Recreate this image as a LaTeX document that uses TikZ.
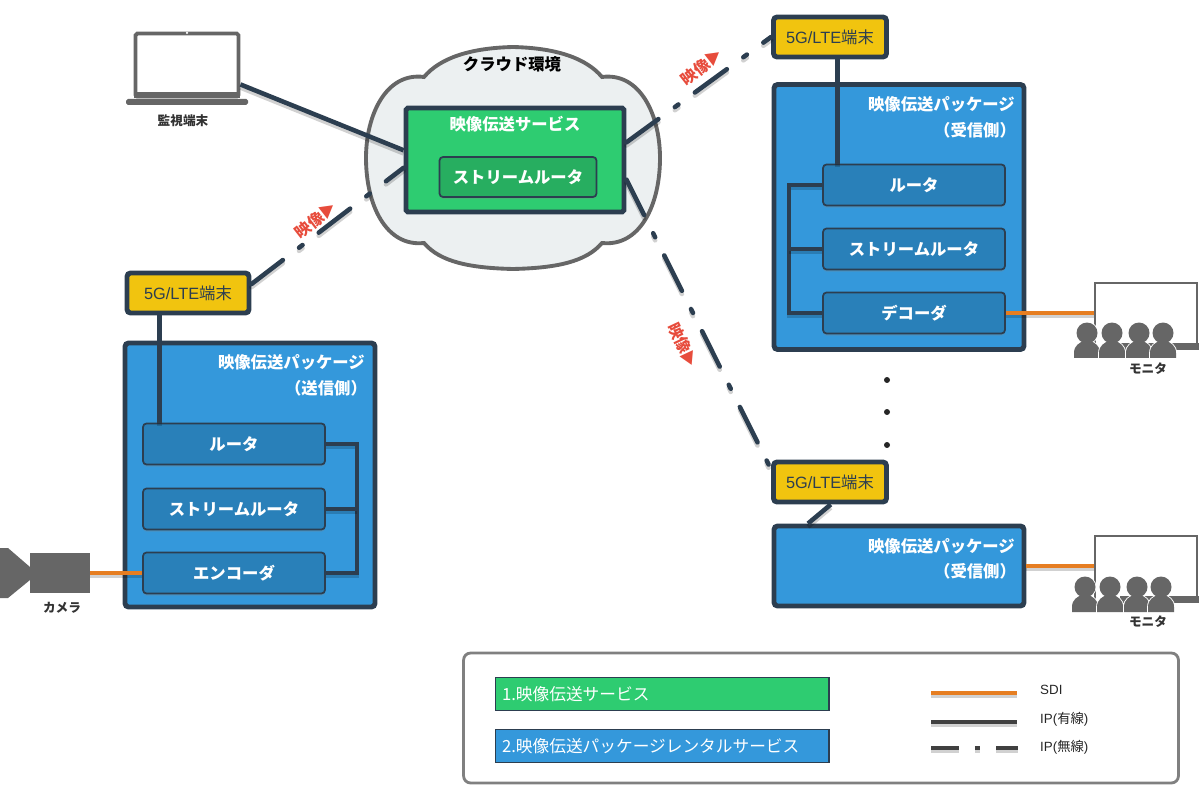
\documentclass[tikz,border=0pt]{standalone}
\usepackage{fontspec}
\setmainfont{Noto Sans CJK JP}
\newfontfamily\latinfont{Liberation Sans}
\usetikzlibrary{positioning,shadows}
\definecolor{navy}{HTML}{2C3E50}
\definecolor{leaf}{HTML}{2ECC71}
\definecolor{leafdark}{HTML}{27AE60}
\definecolor{sky}{HTML}{3498DB}
\definecolor{skydark}{HTML}{2980B9}
\definecolor{sun}{HTML}{F1C40F}
\definecolor{carrot}{HTML}{E67E22}
\definecolor{tomato}{HTML}{E74C3C}
\definecolor{cloudfill}{HTML}{ECF0F1}
\definecolor{ash}{HTML}{666666}
\begin{document}
\begin{tikzpicture}[x=0.02cm, y=-0.02cm,
	softline/.style = {preaction = {draw = black, opacity = .18, line width = 2.6pt, transform canvas = {yshift = -1.8pt}}},
	softradio/.style = {preaction = {draw = black, opacity = .18, line width = 2.6pt, line cap = round, dash pattern = on 22.5pt off 11.6pt on 2.5pt off 11.6pt, transform canvas = {yshift = -1.8pt}}},
	wire/.style = {draw = navy, line width = 2.6pt, softline},
	radio/.style = {draw = navy, line width = 2.6pt, softradio, line cap = round, dash pattern = on 22.5pt off 11.6pt on 2.5pt off 11.6pt},
	sdi/.style = {draw = carrot, line width = 2.8pt, softline},
	package/.style = {draw = navy, fill = sky, line width = 2.8pt, rounded corners = 2pt, minimum width = 5cm},
	service/.style = {draw = navy, fill = leaf, line width = 2.8pt, rounded corners = 1pt},
	unit/.style = {draw = navy, fill = skydark, line width = 1pt, rounded corners = 2pt, minimum width = 3.64cm, minimum height = 0.82cm, text = white, font = \bfseries\fontsize{9.3}{11}\selectfont, drop shadow = {shadow xshift = 0pt, shadow yshift = -1.2pt, opacity = .3}},
	terminal/.style = {draw = navy, fill = sun, line width = 2.8pt, rounded corners = 2pt, minimum width = 2.26cm, minimum height = 0.8cm, text = navy, font = \fontsize{9.3}{11}\selectfont},
	head/.style = {text = white, font = \bfseries\fontsize{9.3}{11}\selectfont},
	small/.style = {text = black!80, font = \bfseries\fontsize{7.2}{9}\selectfont},
	flow/.style = {text = tomato, font = \bfseries\fontsize{9}{11}\selectfont},
	screen/.style = {draw = ash, fill = white, line width = 1.6pt, minimum width = 2.04cm, minimum height = 1.32cm},
	keyitem/.style = {draw = navy, line width = 0.6pt, minimum width = 6.68cm, minimum height = 0.66cm, text = white, text width = 6.4cm, font = \fontsize{9.5}{11}\selectfont},
	keytext/.style = {anchor = west, text = black!85, font = \fontsize{7.6}{9}\selectfont},
	person/.pic = {
		\draw[white, line width = 1pt] (-13,25) -- (-13,20) .. controls (-13,12) and (-7,10) .. (-4,8) -- (4,8) .. controls (7,10) and (13,12) .. (13,20) -- (13,25) -- cycle;
		\draw[white, line width = 1pt] (0,0) circle (0.21cm);
		\fill[ash] (-13,25) -- (-13,20) .. controls (-13,12) and (-7,10) .. (-4,8) -- (4,8) .. controls (7,10) and (13,12) .. (13,20) -- (13,25) -- cycle;
		\fill[ash] (0,0) circle (0.21cm);
	}]
	\useasboundingbox (0,0) rectangle (1200,800);

	% cloud
	\draw[draw = ash, fill = cloudfill, line width = 2.2pt] (424,77)
		.. controls (440,58) and (470,48) .. (513,47)
		.. controls (556,48) and (586,58) .. (602,77)
		.. controls (640,72) and (660,115) .. (660,158)
		.. controls (660,205) and (640,247) .. (602,243)
		.. controls (586,262) and (556,268) .. (513,269)
		.. controls (470,268) and (440,262) .. (424,243)
		.. controls (386,247) and (366,205) .. (366,158)
		.. controls (366,115) and (386,72) .. (424,77) -- cycle;
	\node[text = black, font = \bfseries\fontsize{9.3}{11}\selectfont] (cloud) at (512,64) {クラウド環境};

	% boxes
	\node[service, minimum width = 4.36cm, minimum height = 2.08cm] (svc) at (515,160) {};
	\node[head] (svctitle) at (515,124) {映像伝送サービス};
	\node[unit, draw = navy, fill = leafdark, minimum width = 3.14cm, minimum height = 0.8cm] (svcrouter) at (518,177) {ストリームルータ};

	\node[terminal, minimum width = 2.44cm] (term1) at (188,293) {{\latinfont 5G/LTE}端末};
	\node[package, minimum height = 5.28cm] (pack1) at (250,475) {};
	\node[head, anchor = east] (pack1title) at (371,362) {映像伝送パッケージ};
	\node[head] (pack1side) at (326,388) {（送信側）};
	\node[unit] (router1) at (234,444) {ルータ};
	\node[unit] (stream1) at (234,509) {ストリームルータ};
	\node[unit] (encoder) at (234,573) {エンコーダ};

	\node[terminal] (term2) at (830,37) {{\latinfont 5G/LTE}端末};
	\node[package, minimum height = 5.3cm] (pack2) at (899,217) {};
	\node[head, anchor = east] (pack2title) at (1021,104) {映像伝送パッケージ};
	\node[head] (pack2side) at (975,130) {（受信側）};
	\node[unit] (router2) at (914,185) {ルータ};
	\node[unit] (stream2) at (914,249) {ストリームルータ};
	\node[unit] (decoder) at (914,313) {デコーダ};

	\node[terminal] (term3) at (830,482) {{\latinfont 5G/LTE}端末};
	\node[package, minimum height = 1.6cm] (pack3) at (899,566) {};
	\node[head, anchor = east] (pack3title) at (1021,546) {映像伝送パッケージ};
	\node[head] (pack3side) at (975,571) {（受信側）};

	% laptop
	\node[draw = ash, fill = white, line width = 2.2pt, rounded corners = 1pt, minimum width = 2.06cm, minimum height = 1.26cm] (laptop) at (187,65) {};
	\fill[ash] (134,92) rectangle (240,98);
	\fill[ash, rounded corners = 1pt] (126,99) rectangle (248,105);
	\fill[white] (187,33) circle (0.025cm);
	\node[small] (laptoplabel) at (183,121) {監視端末};

	% camera
	\node[fill = ash, minimum width = 1.2cm, minimum height = 0.8cm] (camera) at (60,573) {};
	\fill[ash] (0,548) -- (8,548) -- (30,567) -- (30,580) -- (8,598) -- (0,598) -- cycle;
	\node[small] (cameralabel) at (62,608) {カメラ};

	% monitors
	\node[screen] (mon1) at (1146,316) {};
	\fill[ash] (1120,343) rectangle (1199,350);
	\foreach \x in {1087,1112,1139,1163} \pic at (\x,333) {person};
	\node[small] (mon1label) at (1148,369) {モニタ};
	\node[screen] (mon2) at (1146,569) {};
	\fill[ash] (1120,596) rectangle (1199,603);
	\foreach \x in {1085,1110,1137,1161} \pic at (\x,587) {person};
	\node[small] (mon2label) at (1148,622) {モニタ};

	% connectors
	\draw[wire] (laptop.-20) -- (svc.175);
	\draw[radio] (term1.8) -- (svc.184);
	\draw[radio] (svc.9) -- (term2.west);
	\draw[radio] (svc.-10) -- (term3.168);
	\draw[wire] (term1.-142) -- (term1.-142 |- router1.north);
	\draw[wire] (term2.-71) -- (term2.-71 |- router2.north);
	\draw[wire] (term3.-88) -- (pack3.155);
	\draw[wire] (router1.east) -- ++(31,0) coordinate (bus1) -- (bus1 |- encoder.east) -- (encoder.east);
	\draw[wire] (stream1.east) -- (bus1 |- stream1.east);
	\draw[wire] (router2.west) -- ++(-33,0) coordinate (bus2) -- (bus2 |- decoder.west) -- (decoder.west);
	\draw[wire] (stream2.west) -- (bus2 |- stream2.west);
	\draw[sdi] (camera.east) -- (encoder.west);
	\draw[sdi] (decoder.east) -- (mon1.west |- decoder.east);
	\draw[sdi] (pack3.east) -- (mon2.west |- pack3.east);

	% flow labels
	\node[flow, rotate = 38] (flow1) at (316,220) {映像▶};
	\node[flow, rotate = 38] (flow2) at (702,67) {映像▶};
	\node[flow, rotate = -65] (flow3) at (683,345) {映像▶};

	% dots
	\foreach \y in {380,412,445} \fill[black!85] (887,\y) circle (0.06cm);

	% legend
	\node[draw = black!50, line width = 1.6pt, rounded corners = 4pt, minimum width = 14.3cm, minimum height = 2.6cm] (legend) at (821,718) {};
	\node[keyitem, fill = leaf] (key1) at (662,694) {1.映像伝送サービス};
	\node[keyitem, fill = sky] (key2) at (662,746) {2.映像伝送パッケージレンタルサービス};
	\node[keytext] (sdilabel) at (1034,690) {{\latinfont SDI}};
	\node[keytext] (wiredlabel) at (1034,719) {{\latinfont IP(}有線{\latinfont )}};
	\node[keytext] (radiolabel) at (1034,747) {{\latinfont IP(}無線{\latinfont )}};
	\coordinate (sdistart) at (931,693);
	\coordinate (sdiend) at (1017,693);
	\coordinate (wiredstart) at (931,722);
	\coordinate (wiredend) at (1017,722);
	\coordinate (radiostart) at (931,748);
	\coordinate (radioend) at (1018,748);
	\draw[sdi] (sdistart) -- (sdiend);
	\draw[wire, draw = black!75] (wiredstart) -- (wiredend);
	\draw[draw = black!75, line width = 2.6pt, preaction = {draw = black, opacity = .18, line width = 2.6pt, dash pattern = on 16pt off 9pt on 3pt off 9pt, transform canvas = {yshift = -1.8pt}}, dash pattern = on 16pt off 9pt on 3pt off 9pt] (radiostart) -- (radioend);
\end{tikzpicture}
\end{document}
